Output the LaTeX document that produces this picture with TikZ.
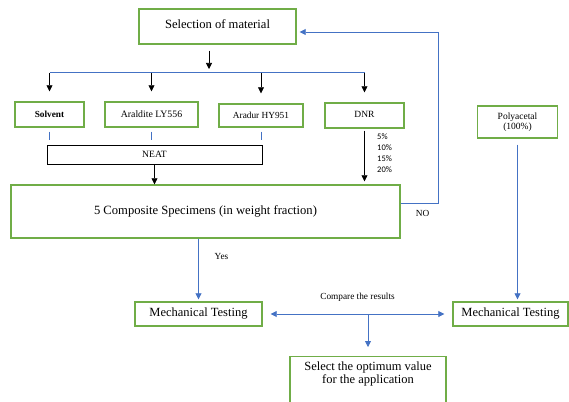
\documentclass[tikz,border=0pt]{standalone}
\usepackage{fontspec}
\setmainfont{Liberation Serif}
\newfontfamily\pctfont{Carlito}
\usetikzlibrary{arrows.meta}

\definecolor{boxgreen}{HTML}{70AD47}
\definecolor{lineblue}{HTML}{4472C4}

\begin{document}
\begin{tikzpicture}[x=1pt,y=-1pt,
	box/.style={draw=boxgreen,line width=1.4pt,inner sep=0pt,align=center},
	neatbox/.style={draw=black,line width=0.6pt,inner sep=0pt},
	blkarrow/.style={draw=black,line width=0.7pt,-{Triangle[width=6pt,length=6pt]}},
	bluearrow/.style={draw=lineblue,line width=0.8pt,-{Triangle[width=6pt,length=6pt]}},
	blueline/.style={draw=lineblue,line width=0.8pt},
	lbl/.style={inner sep=0pt,font=\fontsize{9.3}{11}\selectfont}]
	\useasboundingbox (0,0) rectangle (569,401);
	
	% Draw nodes
	\node[box,minimum width=157pt,minimum height=35pt,font=\fontsize{12.6}{14}\selectfont] (sel) at (217.5,26.5) {\raisebox{4pt}{Selection of material}};
	\node[box,minimum width=69pt,minimum height=25pt,font=\fontsize{9.3}{11}\selectfont\bfseries] (solv) at (49.5,114.5) {Solvent};
	\node[box,minimum width=93pt,minimum height=25pt,font=\fontsize{9.8}{11}\selectfont] (aral) at (151.5,114.5) {Araldite LY556};
	\node[box,minimum width=84pt,minimum height=23pt,font=\fontsize{9.3}{11}\selectfont] (arad) at (261,115.5) {Aradur HY951};
	\node[box,minimum width=79pt,minimum height=25pt,font=\fontsize{9.5}{11}\selectfont] (dnr) at (364.5,115.5) {\raisebox{2pt}{DNR}};
	\node[box,minimum width=80pt,minimum height=32pt,font=\fontsize{9.5}{10}\selectfont] (poly) at (517.5,122) {Polyacetal\\(100\%)};
	\node[neatbox,minimum width=215pt,minimum height=19pt,font=\fontsize{9.6}{11}\selectfont] (neat) at (154.5,154.5) {NEAT};
	\node[box,minimum width=389pt,minimum height=53pt,font=\fontsize{12.6}{14}\selectfont] (comp) at (205.5,211.5) {\raisebox{3pt}{5 Composite Specimens (in weight fraction)}};
	\node[box,minimum width=127pt,minimum height=24pt,font=\fontsize{12.5}{14}\selectfont] (mtl) at (198.5,314) {Mechanical Testing};
	\node[box,minimum width=115pt,minimum height=24pt,font=\fontsize{12.5}{14}\selectfont] (mtr) at (510.5,314) {Mechanical Testing};
	\node[box,minimum width=156pt,inner ysep=5pt,font=\fontsize{12.5}{13}\selectfont] (opt) at (368,381) {Select the optimum value\\for the application\\\strut};
	
	% Draw labels
	\node[lbl,anchor=north west,align=left,font=\pctfont\fontsize{8.5}{11}\selectfont] (pct) at (377,134) {5\%\\10\%\\15\%\\20\%};
	\node[lbl] (no) at (422.5,213) {NO};
	\node[lbl] (yes) at (221.5,256) {Yes};
	\node[lbl] (cmp) at (357.5,297) {Compare the results};
	
	% Draw arcs, selection to the constituents
	\coordinate (split) at (209,72);
	\draw[blkarrow,shorten <=6pt,shorten >=3pt] (sel.south -| split) -- (split);
	\draw[blueline] (solv |- split) -- (dnr |- split);
	\foreach \n in {solv,aral,arad,dnr}
		\draw[blkarrow,shorten <=1pt,shorten >=10pt] (\n |- split) -- (\n.north);
	\foreach \n in {solv,aral,arad}
		\draw[blueline,shorten <=4pt,shorten >=5pt] (\n.south) -- (\n.south |- neat.north);
	
	% Draw arcs, into the specimens
	\draw[blkarrow] (neat.south) -- (neat.south |- comp.north);
	\draw[blkarrow,shorten <=2pt,shorten >=3pt] (dnr.south) -- (dnr.south |- comp.north);
	
	% Draw arcs, feedback and testing
	\coordinate (loop) at (438,203);
	\draw[bluearrow] (comp.east |- loop) -- (loop) |- ([xshift=3pt,yshift=-5.5pt]sel.east);
	\draw[bluearrow,shorten >=2pt] (mtl.north |- comp.south) -- (mtl.north);
	\draw[bluearrow,shorten <=6pt,shorten >=2pt] (poly.south) -- (poly.south |- mtr.north);
	\draw[bluearrow,{Triangle[width=6pt,length=6pt]}-{Triangle[width=6pt,length=6pt]},shorten <=8pt,shorten >=8pt] (mtl.east) -- (mtr.west);
	\draw[bluearrow,shorten >=9pt] (opt.north |- mtl.east) -- (opt.north);
	
\end{tikzpicture}
\end{document}
